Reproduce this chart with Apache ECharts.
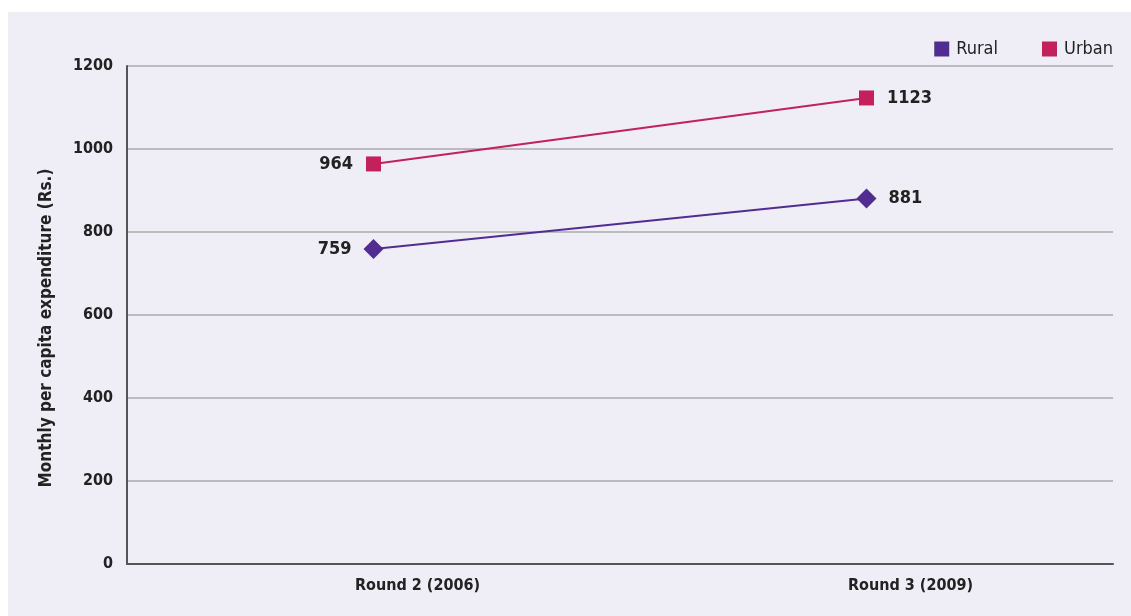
<!DOCTYPE html>
<html>
<head>
<meta charset="utf-8">
<script src="https://cdn.jsdelivr.net/npm/echarts@6/dist/echarts.min.js"></script>
<style>
  html, body { margin: 0; padding: 0; background: #ffffff; }
  #chart { position: absolute; left: 8px; top: 12px; width: 1123px; height: 604px; }
</style>
</head>
<body>
<div id="chart"></div>
<script>
const categories = ['Round 2 (2006)', 'Round 3 (2009)'];
const ruralValues = [759, 881];
const urbanValues = [964, 1123];
const yTicks = [0, 200, 400, 600, 800, 1000, 1200];

const FONT = '"DejaVu Sans Condensed", "Liberation Sans Narrow", "Arial Narrow", sans-serif';
const RURAL = '#512d92';
const URBAN = '#c2215b';

const chart = echarts.init(document.getElementById('chart'));

function labelFor(values) {
  return values.map((v, i) => ({
    value: v,
    label: { position: i === 0 ? 'left' : 'right' }
  }));
}

chart.setOption({
  backgroundColor: '#efeef7',
  animation: false,
  legend: {
    right: 13,
    top: 23,
    itemWidth: 15,
    itemHeight: 15,
    itemGap: 44,
    itemStyle: { borderWidth: 0 },
    icon: 'rect',
    textStyle: { fontFamily: FONT, fontSize: 18, color: '#222', padding: [0, 0, 0, 2] },
    data: ['Rural', 'Urban']
  },
  grid: { left: 119, top: 54, right: 18, bottom: 52 },
  xAxis: {
    type: 'category',
    data: categories,
    boundaryGap: true,
    axisLine: { lineStyle: { color: '#555', width: 2 } },
    axisTick: { show: false },
    axisLabel: {
      fontFamily: FONT, fontWeight: 'bold', fontSize: 16, color: '#222', margin: 14,
      padding: [0, 0, 0, 88]
    }
  },
  yAxis: {
    type: 'value',
    min: yTicks[0],
    max: yTicks[yTicks.length - 1],
    interval: 200,
    name: 'Monthly per capita expenditure (Rs.)',
    nameLocation: 'middle',
    nameGap: 72,
    nameTextStyle: {
      fontFamily: FONT, fontWeight: 'bold', fontSize: 17, color: '#222',
      padding: [0, 26, 0, 0]
    },
    axisLine: { show: true, lineStyle: { color: '#555', width: 2 } },
    axisTick: { show: false },
    axisLabel: {
      fontFamily: FONT, fontWeight: 'bold', fontSize: 16, color: '#222', margin: 14,
      formatter: v => String(v)
    },
    splitLine: { lineStyle: { color: '#aaaaaa', width: 1.5 } }
  },
  series: [
    {
      name: 'Rural',
      type: 'line',
      data: labelFor(ruralValues),
      symbol: 'diamond',
      symbolSize: 20,
      lineStyle: { color: RURAL, width: 2 },
      itemStyle: { color: RURAL },
      label: {
        show: true, distance: 12,
        fontFamily: FONT, fontWeight: 'bold', fontSize: 18, color: '#222'
      }
    },
    {
      name: 'Urban',
      type: 'line',
      data: labelFor(urbanValues),
      symbol: 'rect',
      symbolSize: 15,
      lineStyle: { color: URBAN, width: 2 },
      itemStyle: { color: URBAN },
      label: {
        show: true, distance: 13,
        fontFamily: FONT, fontWeight: 'bold', fontSize: 18, color: '#222'
      }
    }
  ]
});
</script>
</body>
</html>
